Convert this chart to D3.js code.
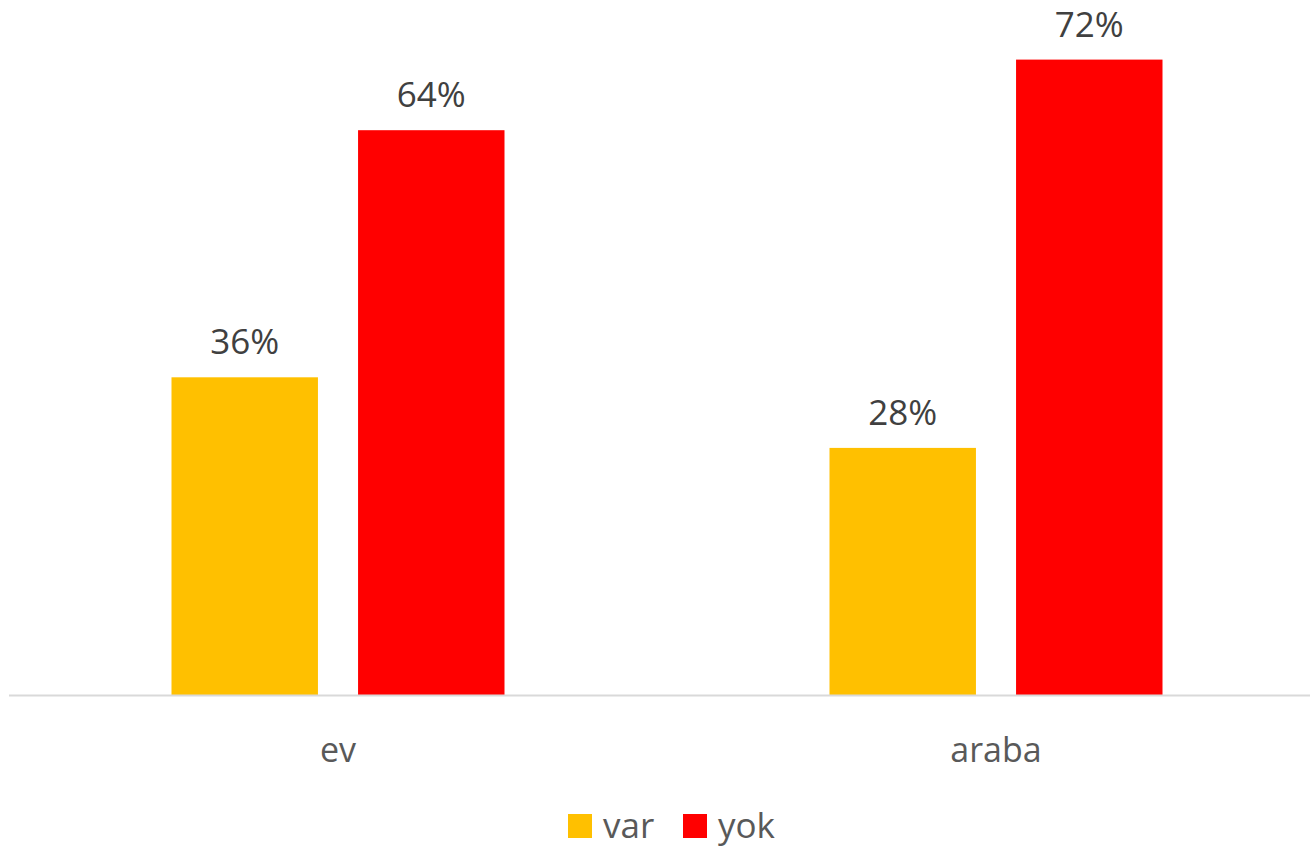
<!DOCTYPE html>
<html><head><meta charset="utf-8">
<script src="https://cdn.jsdelivr.net/npm/d3@7"></script>
<style>body{margin:0;background:#fff}svg{display:block}text{font-family:"Open Sans",sans-serif}</style>
</head><body><svg id="c" width="1310" height="851"></svg>
<script>
const categories = ["ev", "araba"];
const seriesNames = ["var", "yok"];
const varValues = [0.36, 0.28];
const yokValues = [0.64, 0.72];
const colors = ["#FFC000", "#FF0000"];

const svg = d3.select("#c");
const baseY = 695;
const y = d3.scaleLinear().domain([0, 0.8]).range([baseY, -11]);
const x0 = d3.scaleBand().domain(categories).range([9, 1325]).padding(0);
const groupW = 333;
const x1 = d3.scaleBand().domain(seriesNames).range([0, groupW]).paddingInner(0.215).paddingOuter(0);
const color = d3.scaleOrdinal().domain(seriesNames).range(colors);

const data = categories.map((c, i) => ({cat: c, vals: [
  {s: "var", v: varValues[i]}, {s: "yok", v: yokValues[i]}]}));

const g = svg.selectAll("g.grp").data(data).join("g")
  .attr("transform", d => `translate(${x0(d.cat) + (x0.bandwidth() - groupW) / 2},0)`);

g.selectAll("rect").data(d => d.vals).join("rect")
  .attr("x", d => x1(d.s)).attr("width", x1.bandwidth())
  .attr("y", d => y(d.v)).attr("height", d => y(0) - y(d.v))
  .attr("fill", d => color(d.s));

g.selectAll("text.lbl").data(d => d.vals).join("text").attr("class", "lbl")
  .attr("x", d => x1(d.s) + x1.bandwidth() / 2).attr("y", d => y(d.v) - 23)
  .attr("text-anchor", "middle").attr("font-size", 35).attr("fill", "#404040")
  .text(d => d3.format(".0%")(d.v));

// x axis baseline
svg.append("line").attr("x1", 9).attr("x2", 1310).attr("y1", baseY + 0.5).attr("y2", baseY + 0.5)
  .attr("stroke", "#d9d9d9").attr("stroke-width", 2);

const xAxis = d3.axisBottom(x0).tickSize(0).tickPadding(0);
const ax = svg.append("g").attr("transform", `translate(0,${baseY})`).call(xAxis);
ax.select(".domain").remove();
ax.selectAll("text").attr("font-size", 34).attr("fill", "#595959")
  .attr("font-family", "'Open Sans',sans-serif").attr("dy", null).attr("y", 67);

// legend
const legX = [568, 683];
const leg = svg.selectAll("g.leg").data(seriesNames).join("g")
  .attr("transform", (d, i) => `translate(${legX[i]},814)`);
leg.append("rect").attr("width", 24).attr("height", 24).attr("fill", d => color(d));
leg.append("text").attr("x", 35).attr("y", 24).attr("font-size", 35).attr("fill", "#595959").text(d => d);
</script></body></html>
